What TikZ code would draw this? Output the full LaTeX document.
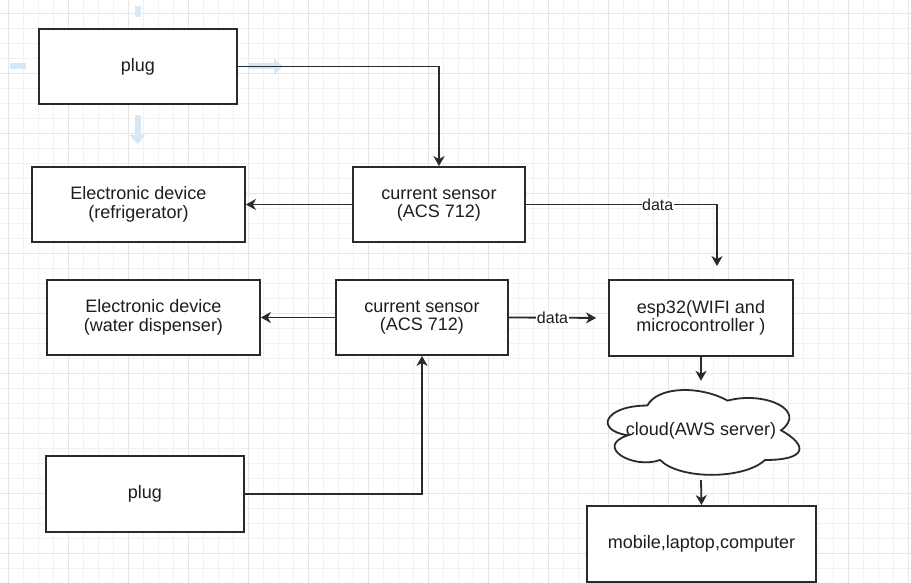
\documentclass[tikz,border=0pt]{standalone}
\usepackage{fontspec}
\setmainfont{Liberation Sans}
\usetikzlibrary{arrows.meta,calc}
\definecolor{ink}{HTML}{2A2A2A}
\definecolor{txt}{HTML}{1E1E1E}
\definecolor{gridminor}{HTML}{F1F1F1}
\definecolor{gridmajor}{HTML}{E6E6E6}
\definecolor{hover}{HTML}{D6E7F5}
\begin{document}
\begin{tikzpicture}[x=1pt,y=-1pt,
  box/.style={draw=ink, line width=1.8pt, fill=white, text=txt, align=center, inner sep=0pt,
    font=\fontsize{18}{18.5}\selectfont},
  arr/.style={draw=ink, line width=1.8pt, -{Stealth[length=10pt,width=11pt,inset=3pt]}},
  lbl/.style={fill=white, text=txt, inner sep=0.5pt, font=\fontsize{16}{17}\selectfont},
  hov/.style={draw=hover, line width=6pt, -{Triangle[length=9pt,width=15pt]}},
  hovstub/.style={draw=hover, line width=6pt}]
\useasboundingbox (0,0) rectangle (911,583);
\fill[white] (0,0) rectangle (911,583);
% grid
\foreach \x in {8,23,...,911} \draw[gridminor, line width=0.8pt] (\x,0) -- (\x,583);
\foreach \y in {13,28,...,583} \draw[gridminor, line width=0.8pt] (0,\y) -- (911,\y);
\foreach \x in {8,68,...,911} \draw[gridmajor, line width=0.9pt] (\x,0) -- (\x,583);
\foreach \y in {13,73,...,583} \draw[gridmajor, line width=0.9pt] (0,\y) -- (911,\y);
% hover arrows (faint)
\draw[hovstub] (137.5,6) -- (137.5,17);
\draw[hovstub] (10,66.5) -- (26,66.5);
\draw[hov] (248,66.5) -- (283,66.5);
\draw[hov] (137.5,115) -- (137.5,144);
% nodes
\node[box, minimum width=198pt, minimum height=75pt] (plugA) at (138,66.5) {plug};
\node[box, minimum width=172pt, minimum height=75pt] (sensA) at (439,204.5) {current sensor\\(ACS 712)};
\node[box, minimum width=213pt, minimum height=75pt] (fridge) at (138.5,204.5) {Electronic device\\(refrigerator)};
\node[box, minimum width=213pt, minimum height=75pt] (wat) at (153.5,317.5) {Electronic device\\(water dispenser)};
\node[box, minimum width=172pt, minimum height=75pt] (sensB) at (422,317.5) {current sensor\\(ACS 712)};
\node[box, minimum width=184pt, minimum height=76pt] (esp) at (701,318) {esp32(WIFI and\\microcontroller )};
\node[box, minimum width=198pt, minimum height=76pt] (plugB) at (145,494) {plug};
\node[box, minimum width=229pt, minimum height=76pt] (mob) at (701.5,544) {mobile,laptop,computer};
% cloud
\node[minimum width=214pt, minimum height=99pt, inner sep=0pt] (cloud) at (701,430.5) {};
\begin{scope}[shift={(cloud.north west)}, x=214pt, y=-99pt]
\draw[ink, line width=1.8pt, fill=white]
  (0.25,0.25) .. controls (0.05,0.25) and (0,0.5) .. (0.16,0.55)
  .. controls (0,0.66) and (0.18,0.9) .. (0.31,0.8)
  .. controls (0.4,1) and (0.7,1) .. (0.8,0.8)
  .. controls (1,0.8) and (1,0.65) .. (0.875,0.5)
  .. controls (1,0.3) and (0.8,0.1) .. (0.625,0.2)
  .. controls (0.5,0.05) and (0.3,0.05) .. (0.25,0.25) -- cycle;
\end{scope}
\node[text=txt, font=\fontsize{18}{18.5}\selectfont] (cloudtxt) at (cloud.center) {cloud(AWS server)};
% connectors
\coordinate (espin) at ([xshift=16pt]esp.north);
\draw[arr] (plugA.east) -| (sensA.north);
\draw[arr] (sensA.west) -- (fridge.east);
\draw[arr, shorten >=13pt] (sensA.east) -| node[lbl, pos=0.345] {data} (espin);
\draw[arr] (sensB.west) -- (wat.east);
\draw[arr, shorten >=12pt] (sensB.east) -- node[lbl, pos=0.44] {data} (esp.west);
\draw[arr] (plugB.east) -| (sensB.south);
\draw[arr] (esp.south) -- (cloud.north);
\draw[arr] (cloud.south) -- (mob.north);
\end{tikzpicture}
\end{document}
